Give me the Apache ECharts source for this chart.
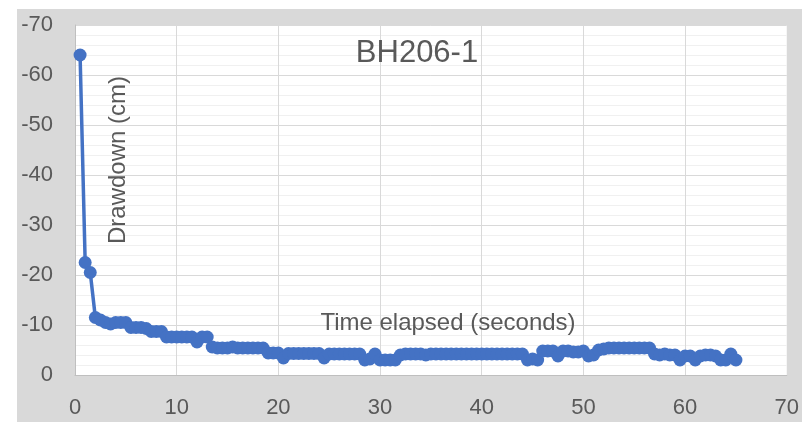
<!DOCTYPE html>
<html>
<head>
<meta charset="utf-8">
<script src="https://cdn.jsdelivr.net/npm/echarts@6/dist/echarts.min.js"></script>
<style>
  html, body { margin: 0; padding: 0; background: #ffffff; }
  #chart { width: 802px; height: 422px; }
</style>
</head>
<body>
<div id="chart"></div>
<script>
// Elapsed time (s) of each reading
var times = [
  0.5, 1, 1.5, 2, 2.5, 3, 3.5, 4, 4.5, 5, 5.5, 6, 6.5, 7, 7.5, 8, 8.5, 9, 9.5, 10,
  10.5, 11, 11.5, 12, 12.5, 13, 13.5, 14, 14.5, 15, 15.5, 16, 16.5, 17, 17.5, 18, 18.5, 19, 19.5, 20,
  20.5, 21, 21.5, 22, 22.5, 23, 23.5, 24, 24.5, 25, 25.5, 26, 26.5, 27, 27.5, 28, 28.5, 29, 29.5, 30,
  30.5, 31, 31.5, 32, 32.5, 33, 33.5, 34, 34.5, 35, 35.5, 36, 36.5, 37, 37.5, 38, 38.5, 39, 39.5, 40,
  40.5, 41, 41.5, 42, 42.5, 43, 43.5, 44, 44.5, 45, 45.5, 46, 46.5, 47, 47.5, 48, 48.5, 49, 49.5, 50,
  50.5, 51, 51.5, 52, 52.5, 53, 53.5, 54, 54.5, 55, 55.5, 56, 56.5, 57, 57.5, 58, 58.5, 59, 59.5, 60,
  60.5, 61, 61.5, 62, 62.5, 63, 63.5, 64, 64.5, 65
];

// Drawdown readings (cm), one per time above
var drawdown = [
  -64, -22.5, -20.5, -11.5, -11, -10.5, -10.2, -10.5, -10.5, -10.5, -9.5, -9.5, -9.5, -9.3, -8.7, -8.7, -8.7, -7.6, -7.6, -7.6,
  -7.6, -7.6, -7.6, -6.6, -7.6, -7.6, -5.6, -5.4, -5.4, -5.4, -5.6, -5.4, -5.4, -5.4, -5.4, -5.4, -5.4, -4.4, -4.4, -4.4,
  -3.4, -4.3, -4.3, -4.3, -4.3, -4.3, -4.3, -4.3, -3.4, -4.2, -4.2, -4.2, -4.2, -4.2, -4.2, -4.2, -3.0, -3.2, -4.2, -3.0,
  -3.0, -3.0, -3.0, -4.0, -4.2, -4.2, -4.2, -4.2, -4.0, -4.2, -4.2, -4.2, -4.2, -4.2, -4.2, -4.2, -4.2, -4.2, -4.2, -4.2,
  -4.2, -4.2, -4.2, -4.2, -4.2, -4.2, -4.2, -4.2, -3.0, -3.2, -3.0, -4.8, -4.8, -4.8, -3.8, -4.8, -4.8, -4.6, -4.6, -4.8,
  -3.8, -4.0, -5.0, -5.2, -5.4, -5.4, -5.4, -5.4, -5.4, -5.4, -5.4, -5.4, -5.4, -4.2, -4.0, -4.2, -4.0, -4.0, -3.0, -3.8,
  -3.8, -3.0, -3.8, -4.0, -4.0, -3.8, -3.0, -3.0, -4.2, -3.0
];

var xTicks = [0, 10, 20, 30, 40, 50, 60, 70];
var yTicks = [-70, -60, -50, -40, -30, -20, -10, 0];

var chartTitle = 'BH206-1';
var yTitle = 'Drawdown (cm)';
var xTitle = 'Time elapsed (seconds)';

var points = times.map(function (t, i) { return [t, drawdown[i]]; });

var textColor = '#595959';
var fontFamily = '"Liberation Sans", Arial, sans-serif';

var chart = echarts.init(document.getElementById('chart'), null, { renderer: 'canvas' });

chart.setOption({
  animation: false,
  backgroundColor: '#ffffff',
  graphic: [
    {
      type: 'rect',
      z: -100,
      silent: true,
      shape: { x: 17, y: 9, width: 785, height: 413 },
      style: { fill: '#d9d9d9' }
    },
    {
      type: 'text',
      z: 100,
      x: 417, y: 53,
      style: {
        text: chartTitle,
        fill: textColor,
        font: '31px ' + fontFamily,
        align: 'center',
        verticalAlign: 'middle'
      }
    },
    {
      type: 'text',
      z: 100,
      x: 118, y: 160,
      rotation: Math.PI / 2,
      style: {
        text: yTitle,
        fill: textColor,
        font: '24px ' + fontFamily,
        align: 'center',
        verticalAlign: 'middle'
      }
    },
    {
      type: 'text',
      z: 100,
      x: 448, y: 323,
      style: {
        text: xTitle,
        fill: textColor,
        font: '24px ' + fontFamily,
        align: 'center',
        verticalAlign: 'middle'
      }
    }
  ],
  grid: {
    left: 75,
    top: 25,
    width: 715,
    height: 350,
    show: true,
    backgroundColor: '#ffffff',
    borderWidth: 0
  },
  xAxis: {
    type: 'value',
    min: xTicks[0],
    max: xTicks[xTicks.length - 1],
    interval: 10,
    axisLine: { show: true, onZero: false, lineStyle: { color: '#bfbfbf', width: 1 } },
    axisTick: { show: false },
    axisLabel: {
      color: textColor,
      fontSize: 22,
      fontFamily: fontFamily,
      margin: 22,
      customValues: xTicks
    },
    splitLine: { show: true, lineStyle: { color: '#d9d9d9', width: 1 } }
  },
  yAxis: {
    type: 'value',
    inverse: true,
    min: yTicks[0],
    max: yTicks[yTicks.length - 1],
    interval: 10,
    axisLine: { show: true, onZero: false, lineStyle: { color: '#bfbfbf', width: 1 } },
    axisTick: { show: false },
    minorTick: { show: false, splitNumber: 5 },
    minorSplitLine: { show: true, lineStyle: { color: '#f0f0f0', width: 1 } },
    axisLabel: {
      color: textColor,
      fontSize: 22,
      fontFamily: fontFamily,
      margin: 22
    },
    splitLine: { show: true, lineStyle: { color: '#d9d9d9', width: 1 } }
  },
  series: [
    {
      type: 'line',
      data: points,
      symbol: 'circle',
      symbolSize: 13,
      showAllSymbol: true,
      lineStyle: { color: '#4472c4', width: 3.5 },
      itemStyle: { color: '#4472c4', borderWidth: 0 }
    }
  ]
});
</script>
</body>
</html>
